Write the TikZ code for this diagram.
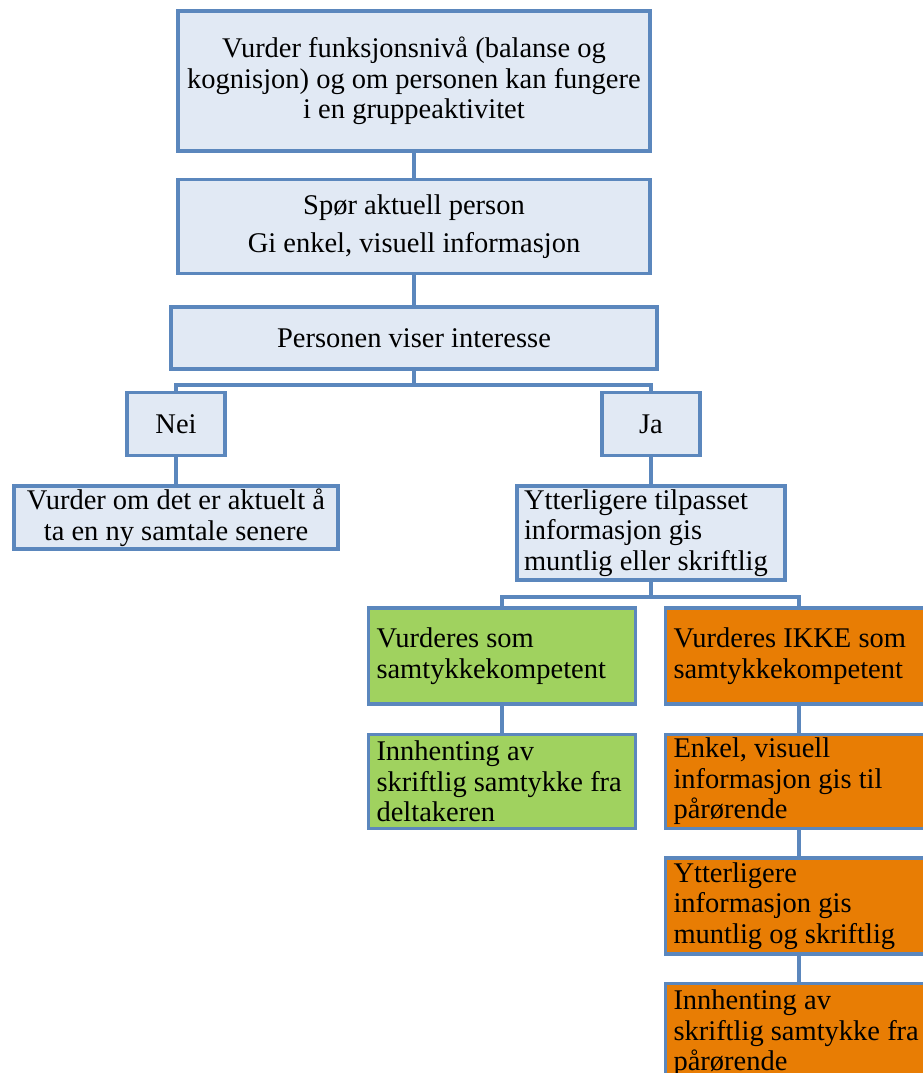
\documentclass[tikz,border=0pt]{standalone}
\usepackage{fontspec}
\setmainfont{Liberation Serif}
\usetikzlibrary{positioning}
\definecolor{edgeblue}{HTML}{5B87BD}
\definecolor{paleblue}{HTML}{E1E9F4}
\definecolor{leafgreen}{HTML}{A0D25F}
\definecolor{warnorange}{HTML}{E87D04}
\tikzstyle{box}=[draw=edgeblue, line width=3.5pt, fill=paleblue, align=center,
                 inner sep=0pt, font=\fontsize{28.5}{30.5}\selectfont]
\tikzstyle{lbox}=[box, align=flush left, inner xsep=8pt, minimum width=267pt, text width=251pt]
\tikzstyle{yes}=[lbox, fill=leafgreen]
\tikzstyle{no}=[lbox, fill=warnorange]
\tikzstyle{ln}=[draw=edgeblue, line width=3.5pt]

\begin{document}
\begin{tikzpicture}[x=1pt, y=-1pt]
    \clip (0,0) rectangle (923,1073);
    % common steps
    \node[box, minimum width=472pt, minimum height=140pt] (assess) at (414,81)
        {Vurder funksjonsnivå (balanse og\\kognisjon) og om personen kan fungere\\i en gruppeaktivitet};
    \node[box, below=25pt of assess, minimum width=472pt, minimum height=94pt] (ask)
        {Spør aktuell person\\[7pt]Gi enkel, visuell informasjon};
    \node[box, below=30pt of ask, minimum width=486pt, minimum height=62pt] (interest)
        {Personen viser interesse};
    % answer
    \node[box, minimum width=98pt, minimum height=63pt] (nei) at (176,424) {Nei};
    \node[box, minimum width=98pt, minimum height=63pt] (ja) at (651,424) {Ja};
    \node[box, below=27pt of nei, minimum width=324pt, minimum height=63pt] (later)
        {Vurder om det er aktuelt å\\ta en ny samtale senere};
    \node[box, align=flush left, below=27pt of ja, minimum width=268pt, minimum height=94pt,
          inner xsep=7pt, text width=254pt] (more)
        {Ytterligere tilpasset\\informasjon gis\\muntlig eller skriftlig};
    % consent
    \node[yes, minimum height=96pt] (comp) at (502,656)
        {Vurderes som\\samtykkekompetent};
    \node[yes, below=27pt of comp, minimum height=94pt] (signself)
        {Innhenting av\\skriftlig samtykke fra\\deltakeren};
    \node[no, minimum height=96pt] (notcomp) at (799,656)
        {Vurderes IKKE som\\samtykkekompetent};
    \node[no, below=27pt of notcomp, minimum height=94pt] (relinfo)
        {Enkel, visuell\\informasjon gis til\\pårørende};
    \node[no, below=26pt of relinfo, minimum height=96pt] (relmore)
        {Ytterligere\\informasjon gis\\muntlig og skriftlig};
    \node[no, below=26pt of relmore, minimum height=100pt] (signrel)
        {Innhenting av\\skriftlig samtykke fra\\pårørende};
    \draw[ln] (assess)--(ask);
    \draw[ln] (ask)--(interest);
    \draw[ln] (interest.south) -- ++(0,14) -| (nei.north);
    \draw[ln] (interest.south) -- ++(0,14) -| (ja.north);
    \draw[ln] (nei)--(later);
    \draw[ln] (ja)--(more);
    \draw[ln] (more.south) -- ++(0,15) -| (comp.north);
    \draw[ln] (more.south) -- ++(0,15) -| (notcomp.north);
    \draw[ln] (comp)--(signself);
    \draw[ln] (notcomp)--(relinfo);
    \draw[ln] (relinfo)--(relmore);
    \draw[ln] (relmore)--(signrel);
  \end{tikzpicture}
\end{document}
